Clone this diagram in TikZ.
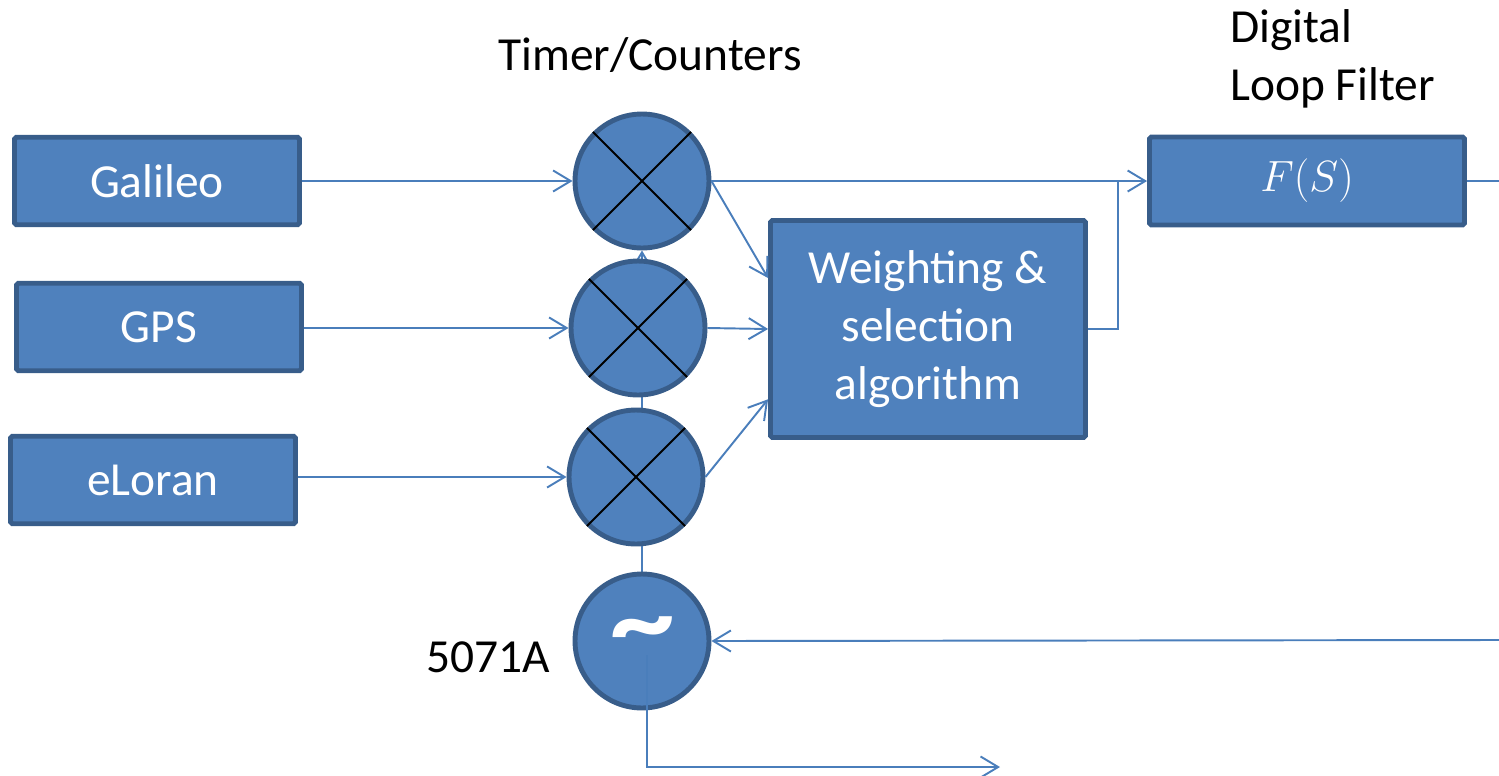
\documentclass[tikz,border=0pt]{standalone}
\usepackage{fontspec}
\setmainfont{Carlito}
\usetikzlibrary{arrows.meta,backgrounds}
\definecolor{boxfill}{HTML}{4F81BD}
\definecolor{boxline}{HTML}{385D8A}
\definecolor{wirecol}{HTML}{4A7EBB}
\tikzset{
  block/.style={draw=boxline, fill=boxfill, line width=2.8pt, rounded corners=1pt,
    text=white, font=\fontsize{27}{33}\selectfont, align=center, inner sep=0pt},
  mixer/.style={circle, draw=boxline, fill=boxfill, line width=2.8pt,
    minimum size=2.68cm, inner sep=0pt, text=white},
  wire/.style={draw=wirecol, line width=1.1pt},
  arr/.style={wire, -{Straight Barb[length=10pt,width=12pt,line width=1.1pt]}},
  label/.style={font=\fontsize{27}{33}\selectfont, inner sep=0pt}
}
\begin{document}
\begin{tikzpicture}[x=0.02cm, y=-0.02cm]
  \useasboundingbox (0,0) rectangle (1499,775);

  \node[block, minimum width=5.7cm, minimum height=1.75cm] (galileo) at (157,181) {Galileo};
  \node[block, minimum width=5.7cm, minimum height=1.75cm] (gps) at (159,327) {GPS};
  \node[block, minimum width=5.7cm, minimum height=1.75cm] (eloran) at (153,480) {eLoran};

  \node[mixer] (mixa) at (642,181) {};
  \node[mixer] (mixb) at (638,328) {};
  \node[mixer] (mixc) at (636,477) {};
  \node[mixer] (osc) at (642,641) {};
  \node[text=white, font=\fontsize{64}{64}\selectfont\bfseries, inner sep=0pt] (tilde) at (643,638)
    {\scalebox{1.15}[1]{\textasciitilde}};

  \node[block, minimum width=6.3cm, minimum height=4.34cm] (wsa) at (928,329)
    {Weighting \&\\selection\\algorithm};
  \node[block, minimum width=6.3cm, minimum height=1.76cm, font=\fontsize{28}{33}\selectfont] (filt) at (1307,181)
    {$F(S)$};

  \node[label] (timers) at (650,55) {Timer/Counters};
  \node[label, anchor=west, align=left] (dlf) at (1230,59) {Digital\\Loop Filter};
  \node[label] (cesium) at (488,657) {5071A};

  \foreach \m in {mixa,mixb,mixc}{
    \draw[black, line width=1.1pt] (\m.north west) -- (\m.south east);
    \draw[black, line width=1.1pt] (\m.north east) -- (\m.south west);
  }

  \begin{pgfonlayer}{background}
    \draw[arr] (osc.north) -- (osc.north |- mixa.south);
  \end{pgfonlayer}

  \coordinate (fsout) at (1499,181);
  \coordinate (fbin) at (1499,640);
  \coordinate (join) at (1118,181);
  \coordinate (oscout) at (647,655);
  \coordinate (ppsout) at (1000,767);

  \draw[arr] (galileo.east) -- (mixa.west);
  \draw[arr] (gps.east |- mixb.west) -- (mixb.west);
  \draw[arr] (eloran.east |- mixc.west) -- (mixc.west);

  \draw[arr] (mixa.east) -- (filt.west);
  \draw[arr] (mixa.east) -- ([yshift=29pt]wsa.west);
  \draw[arr] (mixb.east) -- (wsa.west);
  \draw[arr] (mixc.east) -- ([yshift=-40pt]wsa.west);
  \draw[wire] (wsa.east) -| (join);
  \draw[wire] (filt.east) -- (fsout);

  \draw[arr] (fbin) -- (osc.east);
  \draw[arr] (oscout) |- (ppsout);
\end{tikzpicture}
\end{document}
